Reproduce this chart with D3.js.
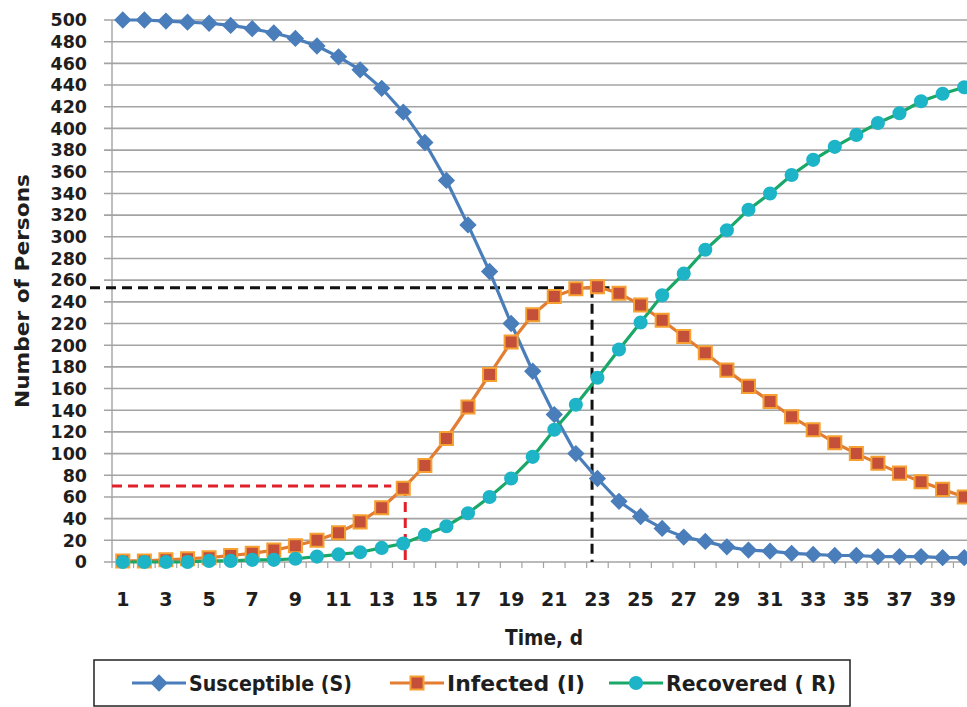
<!DOCTYPE html>
<html><head><meta charset="utf-8">
<script src="https://cdn.jsdelivr.net/npm/d3@7"></script>
<style>body{margin:0;background:#fff}svg{display:block}text{font-family:"DejaVu Sans","Liberation Sans",Arial,sans-serif;font-weight:bold;fill:#1e1e1e}</style>
</head><body>
<svg id="c" width="967" height="707"></svg>
<script>
const days = d3.range(1, 41);
const susceptible = [500,500,499,498,497,495,492,488,483,476,466,454,437,415,387,352,311,268,220,176,136,100,77,56,42,31,23,19,14,11,10,8,7,6,6,5,5,5,4,4];
const infected = [1,1,2,3,4,6,8,11,15,20,27,37,50,68,89,114,143,173,203,228,245,252,254,248,237,223,208,193,177,162,148,134,122,110,100,91,82,74,67,60];
const recovered = [0,0,0,0,1,1,2,2,3,5,7,9,13,17,25,33,45,60,77,97,122,145,170,196,221,246,266,288,306,325,340,357,371,383,394,405,414,425,432,438];
const yTicks = d3.range(0, 501, 20);
const xTickLabels = d3.range(1, 40, 2);
const seriesNames = ["Susceptible (S)", "Infected (I)", "Recovered ( R)"];
const peakGuide = {day: 22.75, value: 253};
const redGuide = {day: 14, value: 70};

const svg = d3.select("#c");
const x = d3.scaleLinear().domain([0.5, 40.5]).range([112, 975]);
const y = d3.scaleLinear().domain([0, 500]).range([562, 20]);

svg.append("g").selectAll("line").data(yTicks).join("line")
  .attr("x1", 104).attr("x2", 967)
  .attr("y1", d => y(d)).attr("y2", d => y(d))
  .attr("stroke", "#a3a3a3").attr("stroke-width", 1.6);

svg.append("line").attr("x1", x(0.5)).attr("x2", x(0.5)).attr("y1", y(500)).attr("y2", y(0))
  .attr("stroke", "#a3a3a3").attr("stroke-width", 1.4);

svg.append("g").selectAll("text").data(yTicks).join("text")
  .attr("x", 87).attr("y", d => y(d)).attr("dy", "0.36em")
  .attr("text-anchor", "end").attr("font-size", 17.5).text(d => d);

svg.append("g").selectAll("line").data(d3.range(0.5, 41, 1)).join("line")
  .attr("x1", d => x(d)).attr("x2", d => x(d)).attr("y1", y(0)).attr("y2", y(0) + 6)
  .attr("stroke", "#a3a3a3").attr("stroke-width", 1.2);

svg.append("g").selectAll("text").data(xTickLabels).join("text")
  .attr("x", d => x(d)).attr("y", 606).attr("text-anchor", "middle")
  .attr("font-size", 19).text(d => d);

svg.append("text").attr("transform", "translate(29,291) rotate(-90)")
  .attr("text-anchor", "middle").attr("font-size", 20)
  .attr("textLength", 234).attr("lengthAdjust", "spacingAndGlyphs").text("Number of Persons");
svg.append("text").attr("x", 544).attr("y", 645).attr("text-anchor", "middle")
  .attr("font-size", 21).attr("textLength", 78).attr("lengthAdjust", "spacingAndGlyphs").text("Time, d");

const guides = svg.append("g").attr("fill", "none").attr("stroke-width", 3).attr("stroke-dasharray", "10,6");
guides.append("line").attr("x1", 90).attr("x2", x(23) + 12).attr("y1", y(peakGuide.value)).attr("y2", y(peakGuide.value)).attr("stroke", "#111");
guides.append("line").attr("x1", x(peakGuide.day)).attr("x2", x(peakGuide.day)).attr("y1", y(peakGuide.value)).attr("y2", y(0)).attr("stroke", "#111");
guides.append("line").attr("x1", x(0.5)).attr("x2", x(redGuide.day) - 12).attr("y1", y(redGuide.value)).attr("y2", y(redGuide.value)).attr("stroke", "#e0202a");
guides.append("line").attr("x1", x(redGuide.day) + 2).attr("x2", x(redGuide.day) + 2).attr("y1", y(redGuide.value)).attr("y2", y(0)).attr("stroke", "#e0202a");

const line = d3.line().x((d, i) => x(days[i])).y(d => y(d));

const styles = [
  {data: susceptible, line: "#4a7ebb", fill: "#4a7ebb", stroke: "#4a7ebb", sym: d3.symbolSquare, size: 105, rot: 45},
  {data: infected, line: "#e27d32", fill: "#c4503a", stroke: "#f5a030", sym: d3.symbolSquare, size: 170, rot: 0},
  {data: recovered, line: "#1aa868", fill: "#1eb4c8", stroke: "#1eb4c8", sym: d3.symbolCircle, size: 115, rot: 0}
];

styles.forEach(s => {
  svg.append("path").datum(s.data).attr("d", line).attr("fill", "none")
    .attr("stroke", s.line).attr("stroke-width", 3.2);
});
styles.forEach(s => {
  svg.append("g").selectAll("path").data(s.data).join("path")
    .attr("transform", (d, i) => `translate(${x(days[i])},${y(d)}) rotate(${s.rot})`)
    .attr("d", d3.symbol().type(s.sym).size(s.size))
    .attr("fill", s.fill).attr("stroke", s.stroke).attr("stroke-width", 2);
});

svg.append("rect").attr("x", 94).attr("y", 660).attr("width", 756).attr("height", 46)
  .attr("fill", "#fff").attr("stroke", "#222").attr("stroke-width", 1.5);
const legX = [132, 390, 609];
const legW = [163, 138, 170];
seriesNames.forEach((n, i) => {
  const s = styles[i];
  const g = svg.append("g").attr("transform", `translate(${legX[i]},683)`);
  g.append("line").attr("x1", 0).attr("x2", 54).attr("stroke", s.line).attr("stroke-width", 3.2);
  g.append("path").attr("transform", `translate(27,0) rotate(${s.rot})`).attr("d", d3.symbol().type(s.sym).size(s.size))
    .attr("fill", s.fill).attr("stroke", s.stroke).attr("stroke-width", 2);
  g.append("text").attr("x", 57).attr("dy", "0.36em").attr("font-size", 22)
    .attr("textLength", legW[i]).attr("lengthAdjust", "spacingAndGlyphs").text(n);
});
</script>
</body></html>
